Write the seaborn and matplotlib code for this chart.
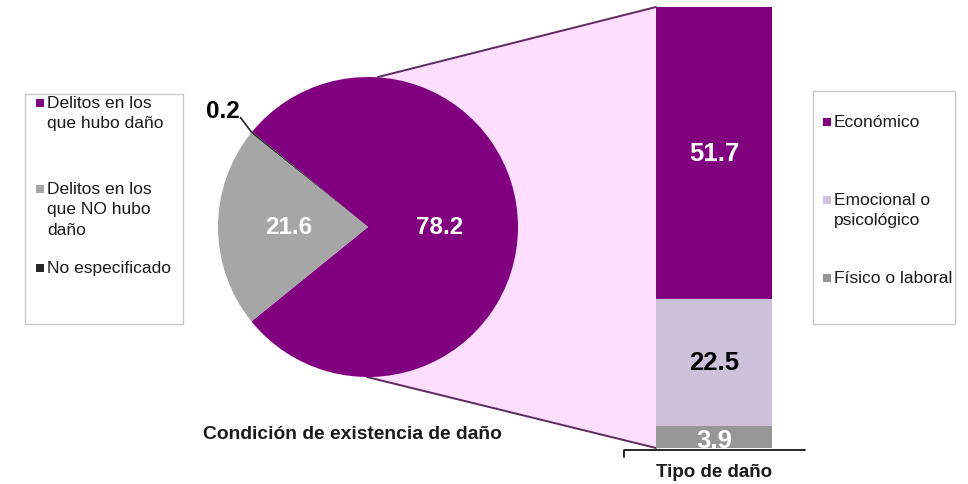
import matplotlib
matplotlib.use("Agg")
import matplotlib.pyplot as plt
import seaborn as sns
import pandas as pd
from matplotlib.patches import Polygon, Rectangle

# datos
pie_labels = ["Delitos en los\nque hubo daño", "Delitos en los\nque NO hubo\ndaño", "No especificado"]
pie_values = [78.2, 21.6, 0.2]
pie_colors = ["#800080", "#A6A6A6", "#262626"]

bar_labels = ["Económico", "Emocional o\npsicológico", "Físico o laboral"]
bar_values = [51.7, 22.5, 3.9]
bar_colors = ["#800080", "#CCC0DA", "#969696"]

sns.set_theme(style="white")
plt.rcParams["font.family"] = ["Liberation Sans", "DejaVu Sans"]

W, H = 968, 485
fig = plt.figure(figsize=(W / 100, H / 100), dpi=100)

# eje de fondo en pixeles (conectores, leyendas, titulos)
bg = fig.add_axes([0, 0, 1, 1], zorder=0)
bg.set_xlim(0, W)
bg.set_ylim(H, 0)
bg.axis("off")

# pastel: centro (368, 228), radio 150
cx, cy, r = 368, 228, 150
bx0, bx1, by0, by1 = 656, 772, 8, 449

bg.add_patch(Polygon([(cx + 10, cy - r), (bx0, by0), (bx0, by1), (cx - 1, cy + r)],
                     closed=True, facecolor="#FFDDFF", edgecolor="none"))
bg.plot([cx + 10, bx0], [cy - r, by0], color="#5E2A5E", lw=1.4)
bg.plot([cx - 1, bx0], [cy + r, by1], color="#5E2A5E", lw=1.4)

pax = fig.add_axes([(cx - r) / W, (H - cy - r) / H, 2 * r / W, 2 * r / H], zorder=1)
# orden antihorario: hubo daño, no especificado, no hubo daño
order = [0, 2, 1]
pax.pie([pie_values[i] for i in order], colors=[pie_colors[i] for i in order],
        startangle=219.0, counterclock=True, radius=1,
        wedgeprops=dict(linewidth=0))
pax.set_xlim(-1, 1)
pax.set_ylim(-1, 1)
pax.set_facecolor("none")
pax.text(0.48, 0.0, f"{pie_values[0]:.1f}", color="white", fontsize=17.5, fontweight="bold",
         ha="center", va="center")
pax.text(-0.53, 0.0, f"{pie_values[1]:.1f}", color="white", fontsize=17.5, fontweight="bold",
         ha="center", va="center")
pax.plot([-0.85, -0.775], [0.73, 0.63], color="#262626", lw=1.2)
pax.text(-0.97, 0.78, f"{pie_values[2]:.1f}", color="black", fontsize=17.5, fontweight="bold",
         ha="center", va="center")

# barra apilada
bax = fig.add_axes([bx0 / W, (H - by1) / H, (bx1 - bx0) / W, (by1 - by0) / H], zorder=1)
cum = [sum(bar_values[i:]) for i in range(3)]  # de arriba hacia abajo
bottoms = [sum(bar_values[i + 1:]) for i in range(3)]
for i in range(3):
    df = pd.DataFrame({"g": ["x"], "v": [cum[i]]})
    sns.barplot(data=df, x="g", y="v", color=bar_colors[i], width=1, saturation=1,
                linewidth=0, ax=bax)
bax.set_xlim(-0.5, 0.5)
bax.set_ylim(0, sum(bar_values))
bax.axis("off")
txt_colors = ["white", "black", "white"]
txt_pos = [bottoms[0] + bar_values[0] / 2, bottoms[1] + bar_values[1] / 2, 1.4]
for i in range(3):
    bax.text(0, txt_pos[i], f"{bar_values[i]:.1f}", color=txt_colors[i],
             fontsize=18.5, fontweight="bold", ha="center", va="center", clip_on=True)

# titulos
bg.text(352, 435, "Condición de existencia de daño", fontsize=13.9, fontweight="bold",
        ha="center", va="center", color="#1a1a1a")
bg.plot([624, 624, 805], [458, 451, 451], color="black", lw=1.2)
bg.text(714, 473, "Tipo de daño", fontsize=13.5, fontweight="bold",
        ha="center", va="center", color="#1a1a1a")

# leyendas
def legend_box(x0, y0, x1, y1, items, mx, tx):
    bg.add_patch(Rectangle((x0, y0), x1 - x0, y1 - y0, facecolor="white",
                           edgecolor="#C8C8C8", lw=1))
    for label, color, y in items:
        bg.add_patch(Rectangle((mx, y - 4), 8, 8, facecolor=color, edgecolor="none"))
        bg.text(tx, y - 8, label, fontsize=12.5, color="#1a1a1a", ha="left", va="top",
                linespacing=1.45)

legend_box(25, 95, 183, 325,
           [(pie_labels[0], pie_colors[0], 104),
            (pie_labels[1], pie_colors[1], 190),
            (pie_labels[2], pie_colors[2], 269)], 36, 47)
legend_box(813, 92, 955, 325,
           [(bar_labels[0], bar_colors[0], 123),
            (bar_labels[1], bar_colors[1], 201),
            (bar_labels[2], bar_colors[2], 279)], 823, 834)

fig.savefig("out.png", dpi=100)
